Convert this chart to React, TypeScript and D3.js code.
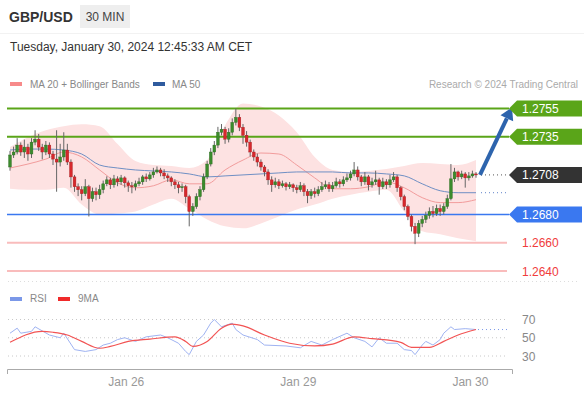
import React from "react";
import * as d3 from "d3";

// ---------- DATA ----------
const firstOpen = 1.27136;
const closes = [1.27221,1.27242,1.27291,1.27242,1.27277,1.27228,1.27312,1.27333,1.27277,1.27242,
1.27291,1.27228,1.27192,1.27171,1.27207,1.27256,1.27171,1.27066,1.26996,1.26975,
1.26947,1.26996,1.26912,1.26961,1.2694,1.26975,1.27017,1.27045,1.2701,1.27052,
1.27031,1.27059,1.27024,1.27003,1.26996,1.27017,1.27031,1.27066,1.27052,1.2708,
1.27101,1.27115,1.27094,1.27073,1.27059,1.27031,1.2701,1.26989,1.26996,1.26926,
1.26821,1.26856,1.26926,1.26975,1.27066,1.27157,1.27242,1.27291,1.27382,1.27403,
1.27333,1.27382,1.27452,1.27487,1.27417,1.27361,1.27312,1.27242,1.27207,1.27171,
1.27136,1.27101,1.27045,1.2701,1.27031,1.27003,1.27017,1.26996,1.2701,1.26989,
1.26975,1.27003,1.26961,1.26933,1.26961,1.26947,1.26975,1.26996,1.2701,1.26982,
1.27003,1.27031,1.27017,1.27045,1.27059,1.27087,1.27115,1.27066,1.27031,1.27066,
1.2701,1.27031,1.27045,1.26996,1.27031,1.2701,1.27045,1.27066,1.26989,1.26926,
1.26856,1.26786,1.26716,1.26667,1.26737,1.26765,1.26793,1.26821,1.26807,1.26842,
1.26821,1.26856,1.26912,1.27052,1.27101,1.27066,1.27087,1.27059,1.27073,1.27087,
1.2708];
const highs = [1.2725,1.2728,1.2734,1.2731,1.2733,1.273,1.2734,1.27396,1.2737,1.273,
1.2732,1.2731,1.2725,1.27396,1.273,1.27382,1.273,1.2719,1.2708,1.2702,
1.27,1.2705,1.2701,1.2699,1.2699,1.2701,1.2704,1.2707,1.2706,1.2708,
1.2707,1.2708,1.2707,1.2704,1.2703,1.2704,1.2706,1.2708,1.2709,1.271,
1.2713,1.2714,1.2713,1.2712,1.2709,1.2707,1.2705,1.2703,1.2702,1.2701,
1.2694,1.2688,1.2695,1.27,1.2709,1.2718,1.2727,1.2732,1.2742,1.2744,
1.2742,1.2741,1.2748,1.2755,1.2751,1.2744,1.2739,1.2733,1.2726,1.2723,
1.2719,1.2715,1.2712,1.2707,1.2706,1.2705,1.2704,1.2703,1.2703,1.2702,
1.2701,1.2703,1.2702,1.2698,1.2698,1.2699,1.27,1.2703,1.2704,1.2703,
1.2703,1.2706,1.2705,1.2707,1.2709,1.2711,1.27171,1.2714,1.2708,1.271,
1.2708,1.2706,1.2711,1.2706,1.2706,1.2705,1.2708,1.271,1.2708,1.27,
1.2694,1.2687,1.268,1.2674,1.2676,1.2679,1.2682,1.2685,1.2686,1.2687,
1.2687,1.2688,1.2694,1.27157,1.2713,1.2711,1.2711,1.271,1.271,1.2711,
1.271];
const lows = [1.2711,1.272,1.27225,1.27215,1.272,1.2718,1.272,1.2729,1.2725,1.2719,
1.2722,1.272,1.2715,1.26961,1.2714,1.2718,1.2715,1.2699,1.2696,1.2693,
1.269,1.2693,1.26786,1.2689,1.269,1.2691,1.2695,1.27,1.2698,1.2699,
1.27,1.2701,1.2699,1.2696,1.2695,1.2697,1.27,1.2701,1.2703,1.2704,
1.2706,1.2709,1.2707,1.2705,1.2703,1.27,1.2698,1.2695,1.2696,1.2688,
1.26716,1.2679,1.2684,1.269,1.2696,1.2705,1.2714,1.2722,1.2727,1.2736,
1.273,1.2731,1.2736,1.2743,1.2739,1.273,1.2728,1.2721,1.2718,1.2714,
1.2711,1.2707,1.2701,1.2696,1.2699,1.2698,1.2699,1.2697,1.2698,1.2696,
1.2695,1.2696,1.2693,1.2688,1.2691,1.2692,1.2693,1.2696,1.2698,1.2696,
1.2696,1.2699,1.2699,1.27,1.2703,1.2704,1.2707,1.2704,1.27,1.2701,
1.2697,1.2699,1.2701,1.2694,1.2698,1.2698,1.2699,1.2703,1.2696,1.269,
1.2683,1.2676,1.2668,1.2659,1.2664,1.2671,1.2674,1.2677,1.2678,1.2679,
1.2679,1.268,1.2684,1.269,1.2703,1.2704,1.2705,1.2699,1.2704,1.2706,
1.2706];

// indicator samples (candle index -> value)
const bandIndex = [0,5,10,15,20,25,30,35,40,45,50,55,60,65,70,75,80,85,90,95,100,105,110,115,120,125,130];
const upperBand = [1.27277,1.27347,1.27396,1.27424,1.27438,1.27424,1.27298,1.27178,1.2715,1.27143,1.27129,1.27185,1.27431,1.27585,1.27564,1.27501,1.27382,1.27207,1.27115,1.27101,1.27108,1.27122,1.27143,1.27164,1.27157,1.2715,1.27185];
const lowerBand = [1.26982,1.26975,1.26975,1.26989,1.2687,1.268,1.26807,1.26821,1.2687,1.26912,1.26842,1.26765,1.26716,1.26702,1.26737,1.26786,1.26835,1.2687,1.26912,1.2694,1.26961,1.26975,1.26821,1.26681,1.2666,1.26632,1.26611];
const ma20 = [1.27129,1.27157,1.27192,1.27242,1.27207,1.27115,1.27024,1.26989,1.27003,1.27045,1.27017,1.27017,1.27115,1.27185,1.27235,1.27228,1.2715,1.27059,1.26982,1.26982,1.26996,1.27031,1.26989,1.26919,1.26884,1.26884,1.26905];
const ma50 = [1.27256,1.27263,1.27263,1.27256,1.27228,1.2715,1.27129,1.27115,1.27108,1.27101,1.27087,1.27066,1.27073,1.2708,1.27087,1.27094,1.27101,1.27101,1.27101,1.27094,1.27094,1.27087,1.27073,1.27017,1.26968,1.26954,1.26954];

const rsiIndex = [0,2,3,6,7,11,14,15,18,21,24,26,28,30,32,35,38,42,44,47,49,50,52,54,56,57,59,62,63,65,69,71,77,81,84,87,90,94,96,99,101,103,105,108,110,112,113,115,116,118,120,121,123,124,127,130];
const rsiValues = [55,60.5,55,57,62,53,50,55,37,35,37,42,44,48,50,46,51,53,50,44,35,31.5,46,53,66,70,62,66,59,53,48,42,41,39,46,42,48,55,50,46,40,50,44,44,37,36,31.5,42,46,42,48,55,62,59,60,59];
const rsiMaIndex = [0,9,12,16,20,25,28,33,39,46,49,51,55,59,62,65,71,78,85,90,96,101,109,112,117,121,125,130];
const rsiMaValues = [45,57,56,53,46,38.5,40.5,46,48.5,51,46,40.5,46,60.5,65,63,53,44,41,43,51,49,45,39.5,39.5,46,53,59];

const resistances = [1.2755, 1.2735];
const support = 1.268;
const lowerLevels = [1.266, 1.264];
const lastPrice = 1.2708;
const rsiTicks = [70, 50, 30];
const dateTicks = [{ i: 33, label: "Jan 26" }, { i: 81, label: "Jan 29" }, { i: 129, label: "Jan 30" }];

// ---------- CHART ----------
const W = 584, H = 394;
const FONT = "'Liberation Sans', Arial, Helvetica, sans-serif";

export default function App() {
  const x = d3.scaleLinear().domain([0, 130]).range([10, 476]);
  const y = d3.scaleLinear().domain([1.264, 1.2755]).range([271, 108.5]);
  const yr = d3.scaleLinear().domain([30, 70]).range([356, 319.5]);

  const opens = closes.map((c, i) => (i === 0 ? firstOpen : closes[i - 1]));

  const band = d3.area<number>()
    .x((_, k) => x(bandIndex[k]))
    .y0((_, k) => y(lowerBand[k]))
    .y1((_, k) => y(upperBand[k]))
    .curve(d3.curveMonotoneX);
  const lineOf = (arr: number[]) =>
    d3.line<number>().x((_, k) => x(bandIndex[k])).y((v) => y(v)).curve(d3.curveMonotoneX)(arr) || "";

  const rsiLine = d3.line<number>().x((_, k) => x(rsiIndex[k])).y((v) => yr(v))(rsiValues) || "";
  const rsiMaLine = d3.line<number>().x((_, k) => x(rsiMaIndex[k])).y((v) => yr(v)).curve(d3.curveMonotoneX)(rsiMaValues) || "";

  const tagX = 509;
  const tag = (yc: number) => `M${tagX},${yc} L${tagX + 8},${yc - 8} L582,${yc - 8} L582,${yc + 8} L${tagX + 8},${yc + 8} Z`;

  const lastX = x(130);
  const arrowStart = [lastX + 4, y(lastPrice)];
  const arrowTip = [lastX + 36, y(1.2755) - 1];
  const ang = Math.atan2(arrowTip[1] - arrowStart[1], arrowTip[0] - arrowStart[0]);
  const headLen = 12, headW = 7;
  const bx = arrowTip[0] - headLen * Math.cos(ang), by = arrowTip[1] - headLen * Math.sin(ang);
  const px = -Math.sin(ang), py = Math.cos(ang);

  return (
    <svg width={W} height={H} style={{ position: "absolute", left: 0, top: 0, background: "#fff" }} fontFamily={FONT}>
      {/* header */}
      <text x={9} y={22} fontSize={14} fontWeight="bold" fill="#333">GBP/USD</text>
      <rect x={80} y={5} width={50} height={23} fill="#eeeeee" />
      <text x={105} y={21} fontSize={12} fill="#444" textAnchor="middle">30 MIN</text>
      <line x1={0} x2={W} y1={33.5} y2={33.5} stroke="#f2f2f2" />
      <text x={10} y={51} fontSize={12} fill="#333">Tuesday, January 30, 2024 12:45:33 AM CET</text>

      {/* legend */}
      <rect x={10} y={82} width={12} height={4} fill="#f78a8a" />
      <text x={30} y={88} fontSize={10} fill="#888">MA 20 + Bollinger Bands</text>
      <rect x={153} y={82} width={12} height={4} fill="#2f5b9e" />
      <text x={172} y={88} fontSize={10} fill="#888">MA 50</text>
      <text x={578} y={88} fontSize={10} fill="#aaa" textAnchor="end">Research © 2024 Trading Central</text>

      {/* bollinger */}
      <path d={band(upperBand) || ""} fill="#fde2e2" />

      {/* levels */}
      {resistances.map((r) => (
        <line key={r} x1={7} x2={tagX} y1={y(r)} y2={y(r)} stroke="#5aa519" strokeWidth={2} />
      ))}
      <line x1={7} x2={tagX} y1={y(support)} y2={y(support)} stroke="#3a78f0" strokeWidth={1.5} />
      {lowerLevels.map((r) => (
        <line key={r} x1={7} x2={tagX - 2} y1={y(r)} y2={y(r)} stroke="#f9bcbc" strokeWidth={2} />
      ))}

      {/* MA lines */}
      <path d={lineOf(ma20)} fill="none" stroke="#f29c9c" strokeWidth={1} />
      <path d={lineOf(ma50)} fill="none" stroke="#6f8fc4" strokeWidth={1} />

      {/* candles */}
      {closes.map((c, i) => {
        const o = opens[i];
        const up = c >= o;
        const cx = x(i);
        const top = y(Math.max(o, c));
        const bot = y(Math.min(o, c));
        return (
          <g key={i}>
            <line x1={cx} x2={cx} y1={y(highs[i])} y2={y(lows[i])} stroke="#666" strokeWidth={1} />
            <rect x={cx - 1.4} y={top} width={2.8} height={Math.max(1, bot - top)}
              fill={up ? "#3b8b2c" : "#d7282c"} stroke={up ? "#2c6a20" : "#a51f22"} strokeWidth={0.4} />
          </g>
        );
      })}

      {/* dotted continuations */}
      <line x1={lastX + 5} x2={tagX} y1={y(lastPrice)} y2={y(lastPrice)} stroke="#555" strokeDasharray="1,3" />
      <line x1={lastX + 5} x2={tagX} y1={y(ma50[ma50.length - 1])} y2={y(ma50[ma50.length - 1])} stroke="#5f82c9" strokeDasharray="1,3" />

      {/* arrow */}
      <line x1={arrowStart[0]} y1={arrowStart[1]} x2={bx} y2={by} stroke="#2d64ad" strokeWidth={4} />
      <path d={`M${arrowTip[0]},${arrowTip[1]} L${bx + px * headW},${by + py * headW} L${bx - px * headW},${by - py * headW} Z`} fill="#2d64ad" />

      {/* tags */}
      {resistances.map((r) => (
        <g key={r}>
          <path d={tag(y(r))} fill="#5aa519" />
          <text x={522} y={y(r) + 4.5} fontSize={12} fill="#fff">{r.toFixed(4)}</text>
        </g>
      ))}
      <path d={tag(y(lastPrice))} fill="#333" />
      <text x={522} y={y(lastPrice) + 4.5} fontSize={12} fill="#fff">{lastPrice.toFixed(4)}</text>
      <path d={tag(y(support))} fill="#3a78f0" />
      <text x={522} y={y(support) + 4.5} fontSize={12} fill="#fff">{support.toFixed(4)}</text>
      {lowerLevels.map((r) => (
        <text key={r} x={522} y={y(r) + 4.5} fontSize={12} fill="#f03c3c">{r.toFixed(4)}</text>
      ))}

      <line x1={8} x2={580} y1={281.5} y2={281.5} stroke="#ddd" strokeDasharray="1,3" />

      {/* RSI legend */}
      <rect x={10} y={297} width={12} height={4} fill="#7b98e8" />
      <text x={30} y={302} fontSize={10} fill="#888">RSI</text>
      <rect x={58} y={297} width={12} height={4} fill="#f02a2a" />
      <text x={78} y={302} fontSize={10} fill="#888">9MA</text>

      {rsiTicks.map((t) => (
        <g key={t}>
          <line x1={8} x2={508} y1={yr(t)} y2={yr(t)} stroke="#c8c8c8" strokeDasharray="1,3" />
          <text x={522} y={yr(t) + 4.5} fontSize={12} fill="#888">{t}</text>
        </g>
      ))}
      <path d={rsiLine} fill="none" stroke="#9fb3f2" strokeWidth={1} />
      <path d={rsiMaLine} fill="none" stroke="#f25454" strokeWidth={1.2} />
      <line x1={lastX + 2} x2={508} y1={yr(rsiValues[rsiValues.length - 1])} y2={yr(rsiValues[rsiValues.length - 1])} stroke="#7b98e8" strokeDasharray="1,3" />

      {/* x axis */}
      <path d="M7.5,374 L7.5,369.5 L512.5,369.5 L512.5,374" fill="none" stroke="#aaa" />
      {dateTicks.map((d) => (
        <text key={d.label} x={x(d.i) - 2} y={386} fontSize={12} fill="#999" textAnchor="middle">{d.label}</text>
      ))}
    </svg>
  );
}
